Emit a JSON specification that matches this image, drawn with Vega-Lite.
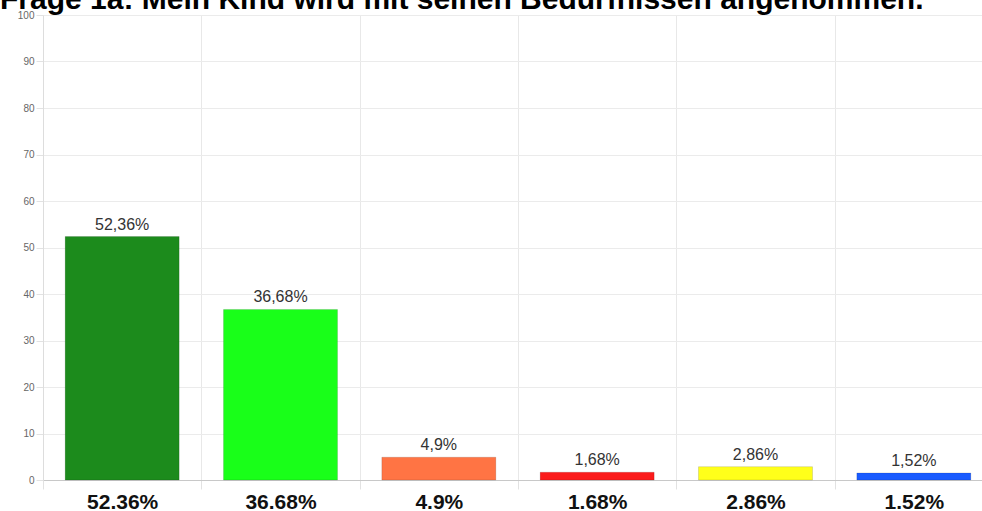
{
  "$schema": "https://vega.github.io/schema/vega-lite/v6.json",
  "width": 939,
  "height": 465,
  "autosize": "none",
  "padding": {"left": 43, "top": 15, "right": 0, "bottom": 31},
  "background": "white",
  "title": {
    "text": "Frage 1a: Mein Kind wird mit seinen Bedürfnissen angenommen.",
    "anchor": "start",
    "frame": "group",
    "dx": -43,
    "dy": 29,
    "offset": 0,
    "baseline": "alphabetic",
    "font": "Liberation Sans",
    "fontSize": 30,
    "fontWeight": "bold",
    "color": "#000000"
  },
  "config": {
    "view": {"stroke": null},
    "font": "Liberation Sans"
  },
  "data": {
    "values": [
      {"kategorie": "52.36%", "wert": 52.36, "beschriftung": "52,36%", "farbe": "#1c8b1c"},
      {"kategorie": "36.68%", "wert": 36.68, "beschriftung": "36,68%", "farbe": "#19ff19"},
      {"kategorie": "4.9%", "wert": 4.9, "beschriftung": "4,9%", "farbe": "#ff7444"},
      {"kategorie": "1.68%", "wert": 1.68, "beschriftung": "1,68%", "farbe": "#fb1b1b"},
      {"kategorie": "2.86%", "wert": 2.86, "beschriftung": "2,86%", "farbe": "#ffff1a"},
      {"kategorie": "1.52%", "wert": 1.52, "beschriftung": "1,52%", "farbe": "#1a5bff"}
    ]
  },
  "encoding": {
    "x": {
      "field": "kategorie",
      "type": "nominal",
      "sort": null,
      "scale": {"range": [0, 950], "paddingInner": 0, "paddingOuter": 0},
      "axis": {
        "title": null,
        "labelAngle": 0,
        "labelFont": "Liberation Sans",
        "labelFontSize": 21,
        "labelFontWeight": "bold",
        "labelColor": "#111111",
        "labelPadding": 2,
        "tickBand": "extent",
        "tickSize": 9,
        "tickColor": "#e2e2e2",
        "grid": true,
        "gridColor": "#e8e8e8",
        "domainColor": "#c8c8c8"
      }
    },
    "y": {
      "field": "wert",
      "type": "quantitative",
      "scale": {"domain": [0, 100]},
      "axis": {
        "title": null,
        "values": [0, 10, 20, 30, 40, 50, 60, 70, 80, 90, 100],
        "labelFont": "Liberation Sans",
        "labelFontSize": 10,
        "labelColor": "#666666",
        "labelPadding": 2,
        "tickSize": 7,
        "tickColor": "#e2e2e2",
        "gridColor": "#ebebeb",
        "domainColor": "#dddddd"
      }
    }
  },
  "layer": [
    {
      "mark": {"type": "bar", "width": {"band": 0.72}, "stroke": "#000000", "strokeOpacity": 0.12, "strokeWidth": 1},
      "encoding": {
        "color": {"field": "farbe", "type": "nominal", "scale": null, "legend": null}
      }
    },
    {
      "mark": {"type": "text", "baseline": "alphabetic", "dy": -7, "font": "Liberation Sans", "fontSize": 16, "color": "#333333"},
      "encoding": {
        "text": {"field": "beschriftung", "type": "nominal"}
      }
    }
  ]
}
